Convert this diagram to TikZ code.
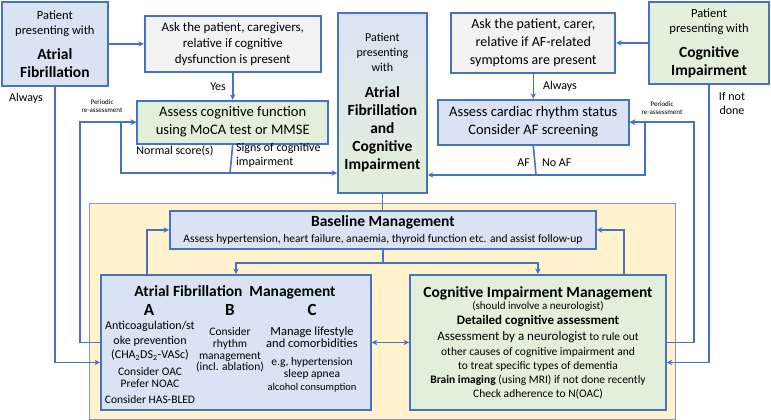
\documentclass[tikz,border=0pt]{standalone}
\usepackage{fontspec}
\setmainfont{Carlito}
\usetikzlibrary{calc, arrows, arrows.meta, positioning}

\definecolor{lineblue}{RGB}{70,114,190}
\definecolor{paleblue}{RGB}{218,227,243}
\definecolor{palegreen}{RGB}{226,239,218}
\definecolor{palegray}{RGB}{242,242,242}
\definecolor{paleyellow}{RGB}{255,242,204}
\definecolor{framegray}{RGB}{140,150,170}

\newcommand{\fsz}[2]{\fontsize{#1}{#2}\selectfont}
\newcommand{\headline}[1]{{\fsz{15.5}{18}\bfseries #1}}

\begin{document}
\begin{tikzpicture} [x=1pt, y=-1pt,
		% define styles
		basicnodestyle/.style={
			% The shape:
			rectangle,
			% The border:
			line width=1.8pt,
			draw=lineblue,
			% Text
			align=center,
			inner sep=1pt
		},
		bluenodestyle/.style={basicnodestyle, fill=paleblue},
		greennodestyle/.style={basicnodestyle, fill=palegreen},
		graynodestyle/.style={basicnodestyle, fill=palegray},
		framenodestyle/.style={
			rectangle,
			draw=framegray,
			line width=0.8pt,
			fill=paleyellow
		},
		textnodestyle/.style={align=center, inner sep=0pt},
		arrow/.style={
			->,
			% Thickness
			line width=1.6pt,
			>={Stealth[length=5.5pt, width=5.5pt]},
			% Color
			lineblue
		},
		plainline/.style={-, line width=1.6pt, lineblue},
		labelstyle/.style={text=black, inner sep=1pt, font=\fsz{12}{14}},
		smalllabel/.style={text=black, align=center, inner sep=0pt, font=\fsz{7}{8.5}}]
		% end of style definition

		\useasboundingbox (0,0) rectangle (771,420);

		% draw nodes
		\node (iFrame) [framenodestyle, minimum width=586pt, minimum height=216pt, anchor=north west] at (89,203) {};

		\node (iAFpatient) [bluenodestyle, minimum width=106pt, minimum height=84pt, anchor=north west, font=\fsz{12.5}{15}] at (1,1)
			{Patient\\presenting with\\[10pt]\headline{Atrial}\\[3pt]\headline{Fibrillation}};
		\node (iAskCog) [graynodestyle, minimum width=176pt, minimum height=56pt, right=35pt of iAFpatient, font=\fsz{13}{16}]
			{Ask the patient, caregivers,\\relative if cognitive\\dysfunction is present};
		\node (iAssessCog) [greennodestyle, minimum width=191pt, minimum height=43pt, below=27pt of iAskCog, font=\fsz{14.5}{18}]
			{Assess cognitive function\\using MoCA test or MMSE};

		\node (iCentre) [basicnodestyle, top color=paleblue, bottom color=palegreen, minimum width=89pt, minimum height=180pt, anchor=north west, font=\fsz{12}{15}] at (337,12)
			{Patient\\presenting\\with\\[11pt]\headline{Atrial}\\[3pt]\headline{Fibrillation}\\[3pt]\headline{and}\\[3pt]\headline{Cognitive}\\[3pt]\headline{Impairment}};

		\node (iCIpatient) [greennodestyle, minimum width=120pt, minimum height=82pt, anchor=north east, font=\fsz{12.5}{15}] at (770,1)
			{Patient\\presenting with\\[10pt]\headline{Cognitive}\\[3pt]\headline{Impairment}};
		\node (iAskAF) [graynodestyle, minimum width=164pt, minimum height=60pt, left=32pt of iCIpatient, font=\fsz{14}{18}]
			{Ask the patient, carer,\\relative if AF-related\\symptoms are present};
		\node (iCardiac) [bluenodestyle, minimum width=191pt, minimum height=45pt, below=25pt of iAskAF, font=\fsz{14.5}{18}]
			{Assess cardiac rhythm status\\Consider AF screening};

		\node (iBaseline) [bluenodestyle, minimum width=426pt, minimum height=38pt, anchor=north west, font=\fsz{11.5}{16}] at (169,210)
			{\headline{Baseline Management}\\Assess hypertension, heart failure, anaemia, thyroid function etc. and assist follow-up};

		\node (iAFmgmt) [bluenodestyle, minimum width=270pt, minimum height=135pt, anchor=north west] at (100,274) {};
		\node (iCImgmt) [greennodestyle, minimum width=256pt, minimum height=135pt, anchor=north west] at (409,274) {};

		% text of the atrial fibrillation management
		\node (iAFmgmtTitle) [textnodestyle, font=\fsz{15.5}{18}\bfseries] at (235,292) {Atrial Fibrillation\ \ Management};
		\node (iColA) [textnodestyle, font=\fsz{17}{18}\bfseries] at (149,310) {A};
		\node (iColB) [textnodestyle, font=\fsz{17}{18}\bfseries] at (230,310) {B};
		\node (iColC) [textnodestyle, font=\fsz{17}{18}\bfseries] at (312,310) {C};
		\node (iColAtext) [textnodestyle, font=\fsz{12}{14.3}] at (150,341) {Anticoagulation/st\\oke prevention\\(CHA\textsubscript{2}DS\textsubscript{2}-VASc)};
		\node (iColAoac) [textnodestyle, font=\fsz{11.5}{12}] at (150,377.5) {Consider OAC\\Prefer NOAC};
		\node (iColAbled) [textnodestyle, font=\fsz{11.5}{12}] at (150,400) {Consider HAS-BLED};
		\node (iColBtext) [textnodestyle, font=\fsz{11.5}{11.7}] at (230,350) {Consider\\rhythm\\management\\(incl. ablation)};
		\node (iColCtext) [textnodestyle, font=\fsz{12.5}{12.5}] at (312,337) {Manage lifestyle\\and comorbidities};
		\node (iColCex) [textnodestyle, font=\fsz{11.5}{12.5}] at (312,374.5) {e.g, hypertension\\sleep apnea\\{\fsz{10.5}{12.5}alcohol consumption}};

		% text of the cognitive impairment management
		\node (iCImgmtTitle) [textnodestyle, font=\fsz{15.5}{18}\bfseries] at (538,293) {Cognitive Impairment Management};
		\node (iCImgmtSub) [textnodestyle, font=\fsz{11}{13}] at (538,306) {(should involve a neurologist)};
		\node (iCIdetail) [textnodestyle, font=\fsz{13}{14}\bfseries] at (538,321) {Detailed cognitive assessment};
		\node (iCItext) [textnodestyle, font=\fsz{11.5}{14.2}] at (538,365.5)
			{{\fsz{13}{14.2}Assessment by a neurologist} to rule out\\other causes of cognitive impairment and\\to treat specific types of dementia\\\textbf{Brain imaging} (using MRI) if not done recently\\Check adherence to N(OAC)};

		% bends of the connectors
		\coordinate (iCogSplit) at (230,173);
		\coordinate (iAFSplit) at (536,175);
		\coordinate (iBaseSplit) at ($(iBaseline.south)+(0,13)$);
		\coordinate (iAFin) at ($(iAFmgmt.west)+(0,20)$);
		\coordinate (iCIin) at ($(iCImgmt.east)+(0,20)$);

		% connect nodes
		\draw [arrow] (iAFpatient.east) -- (iAFpatient.east -| iAskCog.west);
		\draw [arrow] (iAskCog.south) -- node[labelstyle, left=5pt] {Yes} (iAskCog.south |- iAssessCog.north);
		\draw [arrow] (iCIpatient.west) -- (iCIpatient.west -| iAskAF.east);
		\draw [arrow] (iAskAF.south) -- node[labelstyle, right=8pt] {Always} (iAskAF.south |- iCardiac.north);

		\draw [plainline] (iAskCog.south |- iAssessCog.south) -- (iCogSplit);
		\draw [arrow] (iCogSplit) -- (iCogSplit -| iCentre.west);
		\draw [arrow] (iCogSplit) -- ++(-109,0) |- (iAssessCog.west);
		\draw [arrow] (iAFmgmt.west) -- ++(-20,0) |- (iAssessCog.west);
		\draw [arrow] (iAFpatient.south) |- (iAFin);

		\draw [plainline] (iAskAF.south |- iCardiac.south) -- (iAFSplit);
		\draw [arrow] (iAFSplit) -- (iAFSplit -| iCentre.east);
		\draw [arrow] (iAFSplit) -- ++(109,0) |- (iCardiac.east);
		\draw [arrow] (iCImgmt.east) -- ++(27,0) |- (iCardiac.east);
		\draw [arrow] (iCIpatient.south) |- (iCIin);

		\draw [plainline] (iCentre.south) -- (iCentre.south |- iBaseline.north);
		\draw [plainline] (iBaseline.south) -- (iBaseSplit);
		\draw [arrow] (iBaseSplit) -| (iAFmgmt.north);
		\draw [arrow] (iBaseSplit) -| (iCImgmt.north);
		\draw [arrow] ($(iAFmgmt.north west)+(47,0)$) |- (iBaseline.west);
		\draw [arrow] ($(iCImgmt.north east)+(-43,0)$) |- (iBaseline.east);
		\draw [arrow, <->] (iAFmgmt.east) -- (iCImgmt.west);

		% labels of the connectors
		\node (iAlwaysAF) [labelstyle] at (26,98) {Always};
		\node (iPeriodicCog) [smalllabel] at (102,106) {Periodic\\re-assessment};
		\node (iNormal) [labelstyle] at (175,151) {Normal score(s)};
		\node (iSigns) [labelstyle, align=left, anchor=west] at (235,155) {Signs of cognitive\\impairment};
		\node (iPeriodicAF) [smalllabel] at (662,108) {Periodic\\re-assessment};
		\node (iAFlabel) [labelstyle, anchor=east] at (531,163) {AF};
		\node (iNoAF) [labelstyle, anchor=west] at (541,163) {No AF};
		\node (iNotDone) [labelstyle, align=center] at (732,103.5) {If not\\done};
	\end{tikzpicture}
\end{document}
